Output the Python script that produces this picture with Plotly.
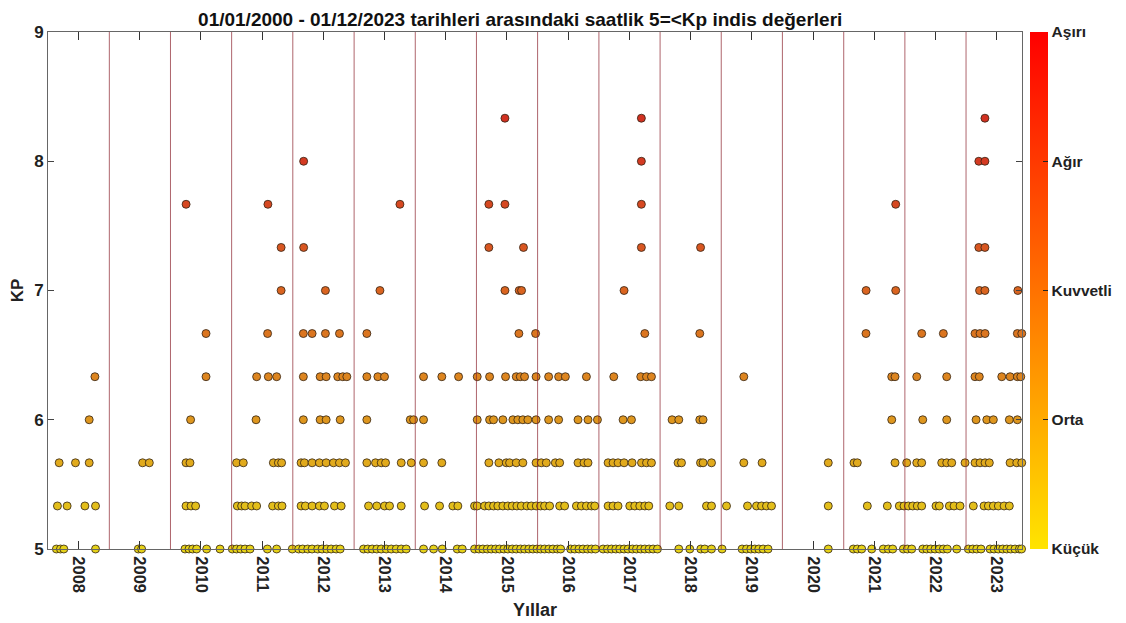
import pandas as pd
import plotly.graph_objects as go

# ---------------- data (decimal years of hourly Kp >= 5 observations) ----------------
years = list(range(2008, 2024))
year_labels = [str(y) for y in years]
kp_levels = [5.0, 5.333, 5.667, 6.0, 6.333, 6.667, 7.0, 7.333, 7.667, 8.0, 8.333]
cbar_vals = [5, 6, 7, 8, 9]
cbar_text = ["Küçük", "Orta", "Kuvvetli", "Ağır", "Aşırı"]

kp_5_00 = [2008.137, 2008.203, 2008.258, 2008.775, 2009.474, 2009.528, 2010.237, 2010.303, 2010.362,
           2010.427, 2010.591, 2010.810, 2011.011, 2011.081, 2011.147, 2011.219, 2011.301, 2011.584,
           2011.736, 2011.992, 2012.096, 2012.161, 2012.243, 2012.315, 2012.406, 2012.478, 2012.553,
           2012.625, 2012.707, 2012.773, 2013.154, 2013.224, 2013.296, 2013.371, 2013.443, 2013.525,
           2013.607, 2013.689, 2013.770, 2013.852, 2014.135, 2014.299, 2014.441, 2014.686, 2014.768,
           2014.969, 2015.040, 2015.105, 2015.177, 2015.242, 2015.313, 2015.378, 2015.449, 2015.514,
           2015.586, 2015.651, 2015.722, 2015.787, 2015.857, 2015.923, 2015.991, 2016.049, 2016.114,
           2016.184, 2016.250, 2016.322, 2016.376, 2016.539, 2016.605, 2016.675, 2016.741, 2016.813,
           2016.878, 2016.943, 2017.068, 2017.140, 2017.205, 2017.276, 2017.341, 2017.411, 2017.477,
           2017.548, 2017.614, 2017.684, 2017.750, 2017.820, 2017.886, 2017.957, 2018.306, 2018.486,
           2018.666, 2018.731, 2018.841, 2019.014, 2019.341, 2019.413, 2019.484, 2019.549, 2019.614,
           2019.685, 2019.766, 2020.748, 2021.157, 2021.222, 2021.294, 2021.458, 2021.647, 2021.729,
           2021.801, 2021.975, 2022.040, 2022.112, 2022.292, 2022.357, 2022.423, 2022.493, 2022.563,
           2022.629, 2022.694, 2022.848, 2023.038, 2023.110, 2023.175, 2023.245, 2023.393, 2023.458,
           2023.528, 2023.600, 2023.666, 2023.731, 2023.801, 2023.872, 2023.908]
kp_5_33 = [2008.154, 2008.312, 2008.602, 2008.775, 2010.254, 2010.336, 2010.411, 2011.093, 2011.163,
           2011.219, 2011.327, 2011.409, 2011.670, 2011.764, 2011.824, 2012.135, 2012.205, 2012.315,
           2012.434, 2012.516, 2012.680, 2012.789, 2013.236, 2013.371, 2013.497, 2013.579, 2013.770,
           2014.152, 2014.397, 2014.614, 2014.696, 2014.969, 2015.013, 2015.133, 2015.203, 2015.280,
           2015.350, 2015.432, 2015.514, 2015.586, 2015.661, 2015.733, 2015.825, 2015.897, 2015.978,
           2016.049, 2016.114, 2016.196, 2016.360, 2016.441, 2016.633, 2016.714, 2016.796, 2016.878,
           2016.932, 2017.150, 2017.231, 2017.313, 2017.504, 2017.586, 2017.668, 2017.750, 2017.815,
           2018.159, 2018.306, 2018.759, 2018.841, 2019.086, 2019.430, 2019.577, 2019.659, 2019.740,
           2019.822, 2020.748, 2021.386, 2021.713, 2021.909, 2021.986, 2022.056, 2022.128, 2022.203,
           2022.275, 2022.509, 2022.563, 2022.727, 2022.804, 2022.902, 2023.119, 2023.294, 2023.365,
           2023.447, 2023.528, 2023.622, 2023.708]
kp_5_67 = [2008.182, 2008.448, 2008.672, 2009.544, 2009.654, 2010.254, 2010.319, 2011.081, 2011.191,
           2011.682, 2011.764, 2011.817, 2012.135, 2012.189, 2012.315, 2012.434, 2012.544, 2012.663,
           2012.761, 2012.859, 2013.208, 2013.350, 2013.443, 2013.514, 2013.770, 2013.934, 2014.135,
           2014.434, 2015.203, 2015.367, 2015.488, 2015.542, 2015.651, 2015.759, 2015.975, 2016.060,
           2016.142, 2016.289, 2016.360, 2016.659, 2016.757, 2016.822, 2017.150, 2017.231, 2017.313,
           2017.411, 2017.542, 2017.696, 2017.778, 2017.859, 2018.294, 2018.350, 2018.661, 2018.703,
           2018.841, 2019.369, 2019.668, 2020.748, 2021.168, 2021.222, 2021.839, 2022.030, 2022.194,
           2022.275, 2022.602, 2022.684, 2022.766, 2022.984, 2023.147, 2023.229, 2023.311, 2023.381,
           2023.720, 2023.829, 2023.911]
kp_6_00 = [2008.672, 2010.329, 2011.399, 2012.172, 2012.446, 2012.544, 2012.773, 2013.208, 2013.918,
           2013.972, 2014.135, 2015.013, 2015.215, 2015.280, 2015.432, 2015.596, 2015.677, 2015.759,
           2015.841, 2015.975, 2016.180, 2016.343, 2016.659, 2016.822, 2016.976, 2017.395, 2017.532,
           2018.196, 2018.306, 2018.649, 2018.703, 2021.785, 2022.292, 2022.684, 2023.164, 2023.339,
           2023.447, 2023.708, 2023.839]
kp_6_33 = [2008.765, 2010.581, 2011.409, 2011.600, 2011.736, 2012.172, 2012.446, 2012.544, 2012.733,
           2012.815, 2012.881, 2013.208, 2013.388, 2013.497, 2014.135, 2014.434, 2014.708, 2015.013,
           2015.215, 2015.476, 2015.651, 2015.717, 2015.787, 2015.975, 2016.180, 2016.343, 2016.453,
           2016.796, 2017.243, 2017.684, 2017.778, 2017.859, 2019.369, 2021.785, 2021.839, 2022.194,
           2022.684, 2023.147, 2023.217, 2023.584, 2023.720, 2023.839, 2023.895]
kp_6_67 = [2010.581, 2011.588, 2012.172, 2012.315, 2012.532, 2012.761, 2013.208, 2015.694, 2015.967,
           2017.750, 2018.649, 2021.364, 2022.275, 2022.629, 2023.147, 2023.229, 2023.311, 2023.839,
           2023.911]
kp_7_00 = [2011.809, 2012.532, 2013.422, 2015.466, 2015.699, 2015.738, 2017.411, 2021.366, 2021.850,
           2023.221, 2023.309, 2023.847]
kp_7_33 = [2011.809, 2012.177, 2015.203, 2015.769, 2017.694, 2018.662, 2023.209, 2023.309]
kp_7_67 = [2010.255, 2011.593, 2013.749, 2015.203, 2015.466, 2017.694, 2021.850]
kp_8_00 = [2012.177, 2017.694, 2023.209, 2023.309]
kp_8_33 = [2015.466, 2017.694, 2023.309]

series = [kp_5_00, kp_5_33, kp_5_67, kp_6_00, kp_6_33, kp_6_67,
          kp_7_00, kp_7_33, kp_7_67, kp_8_00, kp_8_33]


def to_date(dy):
    y = int(dy)
    start = pd.Timestamp(year=y, month=1, day=1)
    end = pd.Timestamp(year=y + 1, month=1, day=1)
    return start + (end - start) * (dy - y)


xs, ys = [], []
for level, vals in zip(kp_levels, series):
    for v in vals:
        xs.append(to_date(v))
        ys.append(level)

FONT = "Liberation Sans, Arial, sans-serif"
# colour bar scale (bright) and the slightly darker face colours used by the markers
bar_scale = [[0.0, "rgb(255,228,0)"], [0.25, "rgb(255,171,0)"], [0.5, "rgb(255,114,0)"],
             [0.75, "rgb(255,57,0)"], [1.0, "rgb(255,0,0)"]]
marker_scale = [[0.0, "rgb(230,210,24)"], [0.25, "rgb(222,150,30)"], [0.5, "rgb(218,100,32)"],
                [0.75, "rgb(212,58,34)"], [1.0, "rgb(204,30,30)"]]

fig = go.Figure()
fig.add_trace(go.Scatter(
    x=xs, y=ys, mode="markers", cliponaxis=False,
    marker=dict(size=8, color=ys, colorscale=marker_scale, cmin=5, cmax=9,
                line=dict(width=0.8, color="rgb(50,35,20)")),
    showlegend=False, hoverinfo="x+y",
))
# colour bar carrier (same data, invisible markers)
fig.add_trace(go.Scatter(
    x=xs, y=ys, mode="markers", hoverinfo="skip", showlegend=False,
    marker=dict(
        size=8, opacity=0, color=ys, colorscale=bar_scale, cmin=5, cmax=9,
        colorbar=dict(
            x=1.0082, xanchor="left", xref="paper", xpad=0, y=0, yanchor="bottom", yref="paper",
            ypad=0, len=1, lenmode="fraction", thickness=18, outlinewidth=0,
            tickvals=cbar_vals, ticktext=cbar_text, ticks="inside", ticklen=5,
            tickcolor="#222", tickwidth=1,
            tickfont=dict(family=FONT, size=15.5, color="#222", weight="bold"),
        ),
    ),
))

# vertical year boundary lines
for y in years[1:]:
    fig.add_vline(x=pd.Timestamp(year=y, month=1, day=1),
                  line=dict(color="rgba(140,35,45,0.7)", width=1))

fig.update_layout(
    width=1126, height=623,
    margin=dict(l=48, r=104, t=32, b=74, autoexpand=False),
    paper_bgcolor="white", plot_bgcolor="white",
    font=dict(family=FONT, color="#222"),
    title=dict(text="01/01/2000 - 01/12/2023 tarihleri arasındaki saatlik 5=<Kp indis değerleri",
               xref="container", x=0.462, xanchor="center", yref="container", y=0.9695,
               yanchor="middle",
               font=dict(family=FONT, size=19, color="#111", weight="bold")),
)
fig.update_xaxes(
    type="date", range=[pd.Timestamp("2008-01-01"), pd.Timestamp("2023-12-01")],
    tickvals=[pd.Timestamp(year=y, month=7, day=2) for y in years], ticktext=year_labels,
    tickangle=90, ticks="inside", ticklen=8, tickcolor="#333", mirror="ticks",
    showline=True, linecolor="#666", linewidth=1, showgrid=False, zeroline=False,
    automargin=False, ticklabelstandoff=3,
    tickfont=dict(family=FONT, size=16.5, color="#222", weight="bold"),
    title=dict(text="Yıllar", font=dict(family=FONT, size=18, color="#222", weight="bold"),
               standoff=10),
)
fig.update_yaxes(
    range=[5, 9], tickvals=[5, 6, 7, 8, 9], ticks="inside", ticklen=6, tickcolor="#444",
    mirror="ticks", showline=True, linecolor="#666", linewidth=1, showgrid=False, zeroline=False,
    automargin=False,
    tickfont=dict(family=FONT, size=17, color="#222", weight="bold"),
    title=dict(text="KP", font=dict(family=FONT, size=17, color="#222", weight="bold"), standoff=6),
)

# remove the browser's default 8px page margin so the figure sits at the window origin
fig.write_html("out.html", config={"displayModeBar": False},
               post_script="document.body.style.margin='0';")
